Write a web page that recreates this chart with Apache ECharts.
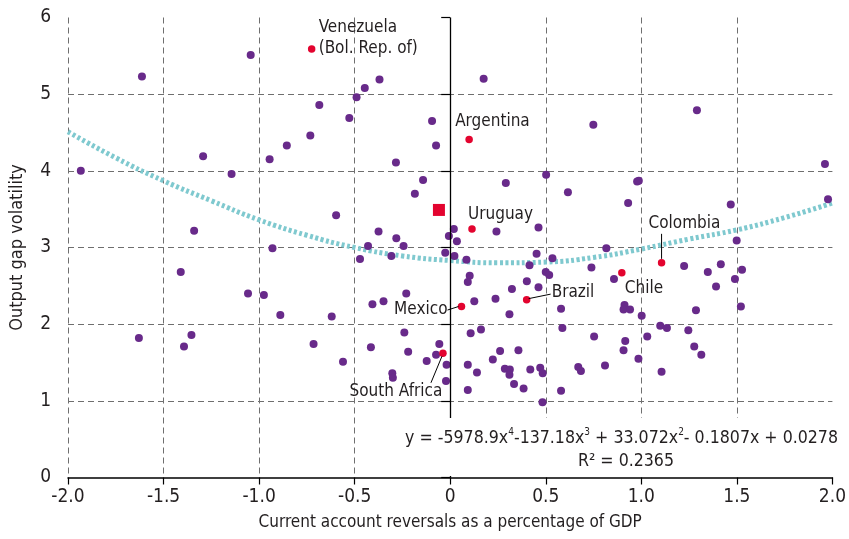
<!DOCTYPE html>
<html>
<head>
<meta charset="utf-8">
<script src="https://cdn.jsdelivr.net/npm/echarts@6/dist/echarts.min.js"></script>
<style>
html, body { margin: 0; padding: 0; background: #fff; }
#chart { width: 849px; height: 539px; }
</style>
</head>
<body>
<div id="chart"></div>
<script>
var FONT = '"DejaVu Sans Condensed", "Liberation Sans Narrow", sans-serif';
var TEXT = '#231f20';

// all economies (purple)
var otherPoints = [
    [-1.933, 4.00], [-1.613, 5.23], [-1.044, 5.51], [-1.293, 4.19], [-1.144, 3.96], [-0.945, 4.15],
    [-0.855, 4.33], [-1.34, 3.22], [-0.93, 2.99],
    [-0.37, 5.19], [-0.447, 5.08], [-0.49, 4.96], [-0.685, 4.86], [-0.528, 4.69], [-0.732, 4.46],
    [-0.095, 4.65], [-0.074, 4.33], [0.175, 5.20], [-0.284, 4.11], [-0.142, 3.88], [-0.185, 3.70],
    [-0.597, 3.42], [0.291, 3.84], [0.502, 3.95], [0.616, 3.72], [0.242, 3.21], [0.462, 3.26],
    [-0.375, 3.21], [-0.282, 3.12], [0.019, 3.24], [-0.007, 3.15], [0.035, 3.08], [-0.244, 3.02],
    [-0.43, 3.02],
    [0.749, 4.60], [1.291, 4.79], [1.961, 4.09], [1.977, 3.63], [0.978, 3.86], [0.987, 3.87],
    [0.931, 3.58], [1.468, 3.56], [1.499, 3.09],
    [-1.41, 2.68], [-1.058, 2.40], [-0.975, 2.38], [-0.889, 2.12], [-1.629, 1.82], [-1.354, 1.86],
    [-1.393, 1.71],
    [-0.62, 2.10], [-0.715, 1.74], [-0.561, 1.51], [-0.472, 2.85], [-0.308, 2.89], [-0.026, 2.93],
    [0.022, 2.89], [0.085, 2.84], [0.102, 2.63], [0.092, 2.55], [0.452, 2.92], [0.415, 2.77],
    [0.535, 2.86], [0.50, 2.68], [0.518, 2.64], [0.401, 2.56], [0.323, 2.46], [0.462, 2.48],
    [0.237, 2.33], [0.126, 2.30], [0.31, 2.13], [0.58, 2.20], [-0.23, 2.40], [-0.349, 2.30],
    [-0.407, 2.26], [-0.24, 1.89], [-0.415, 1.70], [-0.22, 1.64], [-0.057, 1.74], [-0.074, 1.60],
    [-0.123, 1.52], [-0.019, 1.47], [-0.022, 1.26], [-0.303, 1.36], [-0.30, 1.30], [0.107, 1.88],
    [0.161, 1.93], [0.092, 1.47], [0.092, 1.14], [0.14, 1.37], [0.261, 1.65], [0.357, 1.66],
    [0.223, 1.54], [0.286, 1.42], [0.312, 1.41], [0.31, 1.34], [0.334, 1.22], [0.384, 1.16],
    [0.419, 1.41], [0.471, 1.43], [0.484, 1.36], [0.483, 0.98], [0.58, 1.13],
    [0.67, 1.44], [0.684, 1.39], [0.817, 2.99], [0.739, 2.74], [0.857, 2.59], [1.224, 2.76],
    [1.348, 2.68], [1.416, 2.78], [1.49, 2.59], [1.527, 2.71], [1.521, 2.23], [1.391, 2.49],
    [1.286, 2.18], [0.587, 1.95], [0.912, 2.25], [0.907, 2.19], [0.941, 2.19], [1.002, 2.11],
    [1.099, 1.98], [1.134, 1.95], [1.246, 1.92], [0.753, 1.84], [1.031, 1.84], [0.916, 1.78],
    [0.907, 1.66], [1.277, 1.71], [1.314, 1.60], [0.985, 1.55], [0.81, 1.46], [1.106, 1.38]
];

// highlighted economies (red)
var countryNames = ['Venezuela\n(Bol. Rep. of)', 'Argentina', 'Uruguay', 'Colombia', 'Chile', 'Brazil', 'Mexico', 'South Africa'];
var countryPoints = [
    [-0.725, 5.59], [0.099, 4.41], [0.114, 3.24], [1.106, 2.80],
    [0.898, 2.67], [0.40, 2.32], [0.059, 2.23], [-0.038, 1.62]
];

// average (red square)
var averagePoint = [[-0.059, 3.49]];

// trend line
var trendX = [-2.0, -1.75, -1.5, -1.25, -1.0, -0.75, -0.5, -0.25, 0, 0.25, 0.5, 0.75, 1.0, 1.25, 1.5, 1.75, 2.0];
var trendY = [4.51, 4.17, 3.87, 3.61, 3.36, 3.16, 3.00, 2.89, 2.83, 2.80, 2.81, 2.87, 2.98, 3.11, 3.23, 3.39, 3.58];

var equationText = 'y = -5978.9x{sup|4}-137.18x{sup|3} + 33.072x{sup|2}- 0.1807x + 0.0278';
var r2Text = 'R² = 0.2365';

// label placement relative to each red dot (pixels)
var labelPlace = [
    { dx: 7, dy: -11, align: 'left' },
    { dx: -14, dy: -18, align: 'left' },
    { dx: -4, dy: -15, align: 'left' },
    { dx: -13, dy: -39, align: 'left', line: [0, -29, 0, -4] },
    { dx: 3, dy: 16, align: 'left' },
    { dx: 25, dy: -7, align: 'left', line: [2, -1, 24, -5.5] },
    { dx: -14, dy: 3, align: 'right', line: [-14, 3.5, -3, 0] },
    { dx: -47, dy: 38, align: 'center', line: [-1, 3, -12, 29.5] }
];

var trendData = trendX.map(function (x, i) { return [x, trendY[i]]; });
var gridColor = '#6f6f6f';

var chart = echarts.init(document.getElementById('chart'));

var option = {
    animation: false,
    backgroundColor: '#fff',
    textStyle: { fontFamily: FONT },
    grid: { left: 66, right: 13, top: 17.5, bottom: 61.5 },
    xAxis: {
        type: 'value',
        min: -2, max: 2, interval: 0.5,
        name: 'Current account reversals as a percentage of GDP',
        nameLocation: 'middle',
        nameGap: 37,
        nameTextStyle: { color: TEXT, fontSize: 17, fontFamily: FONT },
        axisLine: { lineStyle: { color: '#000', width: 1.5 } },
        axisTick: { length: 7, lineStyle: { color: '#000', width: 1.2 } },
        axisLabel: {
            color: TEXT, fontSize: 19, fontFamily: FONT, margin: 10,
            formatter: function (v) { return v === 0 ? '0' : v.toFixed(1); }
        },
        splitLine: {
            show: true,
            showMaxLine: false,
            lineStyle: {
                type: [6, 4],
                width: 1,
                color: [gridColor, gridColor, gridColor, gridColor, 'rgba(0,0,0,0)', gridColor, gridColor, gridColor, gridColor]
            }
        }
    },
    yAxis: {
        type: 'value',
        min: 0, max: 6, interval: 1,
        name: 'Output gap volatility',
        nameLocation: 'middle',
        nameGap: 42,
        nameTextStyle: { color: TEXT, fontSize: 18, fontFamily: FONT },
        axisLine: { show: false },
        axisTick: { show: true, length: 9, lineStyle: { color: '#000', width: 1.2 } },
        axisLabel: { color: TEXT, fontSize: 19, fontFamily: FONT, margin: 17 },
        splitLine: {
            show: true,
            showMinLine: false,
            showMaxLine: false,
            lineStyle: { type: [6, 4], width: 1, color: gridColor }
        }
    },
    series: [
        {
            name: 'trend',
            type: 'line',
            data: trendData,
            smooth: true,
            symbol: 'none',
            silent: true,
            z: 1,
            lineStyle: { color: '#7fc9cf', width: 5, type: [3, 2.5] }
        },
        {
            name: 'economies',
            type: 'scatter',
            data: otherPoints,
            symbolSize: 8,
            itemStyle: { color: '#682a8a', opacity: 1 },
            z: 3,
            markLine: {
                silent: true,
                symbol: 'none',
                label: { show: false },
                lineStyle: { color: '#000', type: 'solid', width: 1.3 },
                data: [[{ coord: [0, 0] }, { coord: [0, 6] }]]
            }
        },
        {
            name: 'highlighted',
            type: 'scatter',
            data: countryPoints,
            symbolSize: 7.5,
            itemStyle: { color: '#e3042f', opacity: 1 },
            z: 4
        },
        {
            name: 'average',
            type: 'scatter',
            data: averagePoint,
            symbol: 'rect',
            symbolSize: 12,
            itemStyle: { color: '#e3042f', opacity: 1 },
            z: 4
        }
    ]
};

chart.setOption(option);

// annotations placed from the data positions
var graphics = [];
countryPoints.forEach(function (p, i) {
    var px = chart.convertToPixel({ gridIndex: 0 }, p);
    var lp = labelPlace[i];
    graphics.push({
        type: 'text',
        x: px[0] + lp.dx,
        y: px[1] + lp.dy,
        z: 10,
        style: {
            text: countryNames[i],
            fill: TEXT,
            font: '17px ' + FONT,
            align: lp.align,
            verticalAlign: 'middle',
            lineHeight: 21
        }
    });
    if (lp.line) {
        graphics.push({
            type: 'line',
            z: 10,
            shape: { x1: px[0] + lp.line[0], y1: px[1] + lp.line[1], x2: px[0] + lp.line[2], y2: px[1] + lp.line[3] },
            style: { stroke: '#000', lineWidth: 1 }
        });
    }
});

// white box behind the equation
graphics.push({
    type: 'rect',
    z: 8,
    shape: { x: 396, y: 418, width: 444, height: 58 },
    style: { fill: '#fff' }
});
graphics.push({
    type: 'text',
    z: 10,
    x: 838, y: 438,
    style: {
        text: equationText,
        fill: TEXT,
        font: '17.6px ' + FONT,
        align: 'right',
        verticalAlign: 'middle',
        rich: {
            sup: { fontSize: 10, fontFamily: FONT, fill: TEXT, verticalAlign: 'top', lineHeight: 21 }
        }
    }
});
graphics.push({
    type: 'text',
    z: 10,
    x: 626, y: 461,
    style: {
        text: r2Text,
        fill: TEXT,
        font: '17.6px ' + FONT,
        align: 'center',
        verticalAlign: 'middle'
    }
});

chart.setOption({ graphic: graphics });
</script>
</body>
</html>
